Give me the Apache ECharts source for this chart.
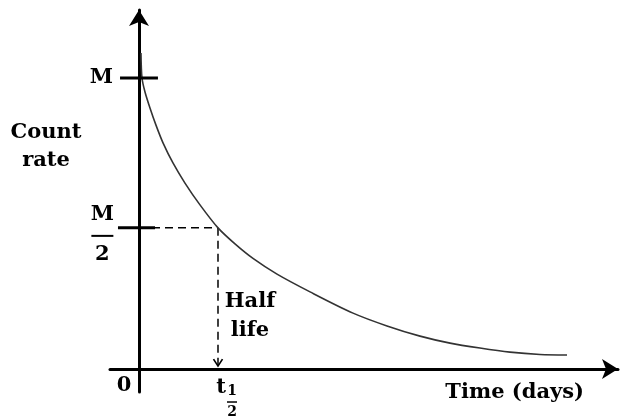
<!DOCTYPE html>
<html><head><meta charset="utf-8">
<script src="https://cdn.jsdelivr.net/npm/echarts@6/dist/echarts.min.js"></script>
<style>html,body{margin:0;padding:0;background:#fff}#c{width:620px;height:419px}</style>
</head><body><div id="c"></div>
<script>
// Data (time in arbitrary days with half-life = 10, count rate as % of M)
const timeDays  = [0.25, 0.38, 0.76, 1.39, 2.15, 3.04, 4.30, 5.82, 7.72, 10.0, 12.15, 14.43, 17.47, 21.65, 27.09, 31.39, 35.57, 39.37, 43.16, 46.96, 50.76, 54.18];
const countRate = [108.6, 100.0, 95.2, 89.7, 83.8, 77.7, 70.8, 63.9, 56.4, 48.5, 43.0, 38.0, 32.6, 26.5, 19.2, 14.8, 11.3, 8.9, 7.2, 5.8, 5.0, 4.8];
const levelM = 100;
const levelHalf = 48.5;
const tHalf = 10;
const xRange = [-3.67, 60.63];
const yRange = [-7.9, 123.37];
const tickLabels = ['M', 'M', '2', '0', 't', '1', '2'];
const annotationTexts = ['Count\nrate', 'Half\nlife', 'Time (days)'];

const FONT = '"DejaVu Serif", serif';
const FS = 21;
const black = '#000';
const txt = { fontFamily: FONT, fontWeight: 'bold', fontSize: FS, color: black };

const chart = echarts.init(document.getElementById('c'), null, { renderer: 'canvas' });
const curve = timeDays.map((t, i) => [t, countRate[i]]);

const option = {
  animation: false,
  backgroundColor: '#fff',
  grid: { left: 110, right: 2, top: 10, bottom: 27, outerBoundsMode: 'none' },
  xAxis: {
    type: 'value', min: xRange[0], max: xRange[1],
    axisLine: { onZero: true, lineStyle: { color: black, width: 3 }, symbol: ['none', 'arrow'], symbolSize: [15, 16] },
    axisTick: { show: false }, axisLabel: { show: false }, splitLine: { show: false }
  },
  yAxis: {
    type: 'value', min: yRange[0], max: yRange[1],
    axisLine: { onZero: true, lineStyle: { color: black, width: 3 }, symbol: ['none', 'arrow'], symbolSize: [15, 16] },
    axisTick: { show: false }, axisLabel: { show: false }, splitLine: { show: false }
  },
  series: [
    { // decay curve
      type: 'line', data: curve, smooth: 0.3, symbol: 'none', silent: true,
      lineStyle: { color: '#333', width: 1.6 }, z: 3
    },
    { // M tick
      type: 'line', data: [[-2.4, levelM], [2.4, levelM]], symbol: 'none', silent: true,
      lineStyle: { color: black, width: 3 }, z: 4
    },
    { // M/2 tick
      type: 'line', data: [[-2.66, levelHalf], [2.03, levelHalf]], symbol: 'none', silent: true,
      lineStyle: { color: black, width: 3 }, z: 4
    },
    { // dashed horizontal
      type: 'line', data: [[0, levelHalf], [tHalf, levelHalf]], symbol: 'none', silent: true,
      lineStyle: { color: black, width: 1.5, type: [8, 5] }, z: 2
    },
    { // dashed vertical
      type: 'line', data: [[tHalf, levelHalf], [tHalf, 0]], symbol: 'none', silent: true,
      lineStyle: { color: black, width: 1.5, type: [8, 5] }, z: 2
    },
    { // arrow head on dashed vertical
      type: 'scatter', silent: true, z: 5,
      data: [[tHalf, 2.2]],
      symbol: 'path://M0,0 L5,7 L10,0', symbolSize: [9, 7],
      itemStyle: { color: 'none', borderColor: black, borderWidth: 1.4, opacity: 1 }
    },
    { // labels anchored to data
      type: 'scatter', silent: true, symbolSize: 0, z: 6,
      itemStyle: { opacity: 1 },
      data: [
        { value: [0, levelM], label: { show: true, position: 'left', distance: 26, formatter: tickLabels[0], ...txt } },
        { value: [0, levelHalf], label: {
            show: true, position: 'left', distance: 25, offset: [0, 6],
            formatter: '{n|' + tickLabels[1] + '}\n{b|}\n{d|' + tickLabels[2] + '}',
            rich: {
              n: { ...txt, lineHeight: 24, align: 'center' },
              b: { width: 22, height: 2, backgroundColor: black, lineHeight: 18, align: 'center' },
              d: { ...txt, lineHeight: 20, align: 'center' }
            }
        } },
        { value: [0, 0], label: { show: true, position: 'inside', offset: [-15, 17], formatter: tickLabels[3], ...txt } },
        { value: [tHalf, 0], label: { show: true, position: 'inside', offset: [3, 19], formatter: tickLabels[4], ...txt } },
        { value: [tHalf, 0], label: {
            show: true, position: 'inside', offset: [14, 33],
            formatter: '{s|' + tickLabels[5] + '}\n{b|}\n{s|' + tickLabels[6] + '}',
            rich: {
              s: { fontFamily: FONT, fontWeight: 'bold', fontSize: 14, color: black, lineHeight: 15, align: 'center' },
              b: { width: 10, height: 1.5, backgroundColor: black, lineHeight: 6, align: 'center' }
            }
        } },
        { value: [tHalf, 18.2], label: {
            show: true, position: 'inside', offset: [32, 0], align: 'center',
            formatter: annotationTexts[1], ...txt, lineHeight: 29
        } }
      ]
    }
  ],
  graphic: [
    { type: 'text', x: 46, y: 119, style: { text: annotationTexts[0], font: 'bold ' + FS + 'px ' + FONT, fill: black, align: 'center', lineHeight: 28 } },
    { type: 'text', x: 584, y: 382, style: { text: annotationTexts[2], font: 'bold ' + FS + 'px ' + FONT, fill: black, align: 'right' } }
  ]
};
chart.setOption(option);
</script>
</body></html>
